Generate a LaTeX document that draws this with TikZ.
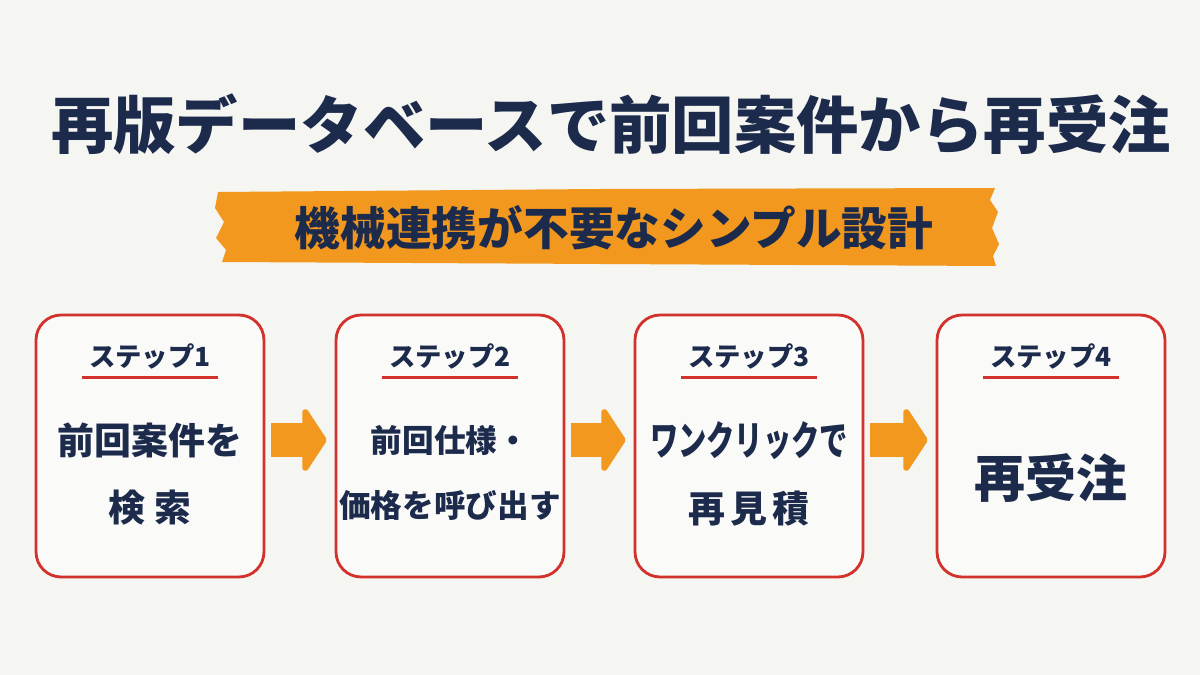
\documentclass[tikz,border=0pt]{standalone}
\usepackage{fontspec}
\usepackage{graphicx}
\newfontfamily\cjk{Noto Sans CJK JP}
\usetikzlibrary{arrows.meta,calc,positioning}
\definecolor{navy}{HTML}{1C2A4B}
\definecolor{boxred}{HTML}{D2312C}
\definecolor{tape}{HTML}{F2981E}
\definecolor{paper}{HTML}{F5F5F2}
\definecolor{card}{HTML}{FAFAF8}
\tikzset{
  stepbox/.style={draw=boxred,line width=1.6pt,rounded corners=0.5cm,
    minimum width=4.56cm,minimum height=5.24cm,fill=card},
  steplabel/.style={text=navy,inner sep=2pt,font=\cjk\bfseries\fontsize{15}{18}\selectfont},
  bodytext/.style={text=navy,align=center,font=\cjk\bfseries\fontsize{21}{38}\selectfont},
  fatarrow/.style={draw=tape,line width=0.7cm,-{Triangle[width=1.5cm,length=0.5cm,round]}}
}

\begin{document}
\begin{tikzpicture}[x=0.02cm,y=-0.02cm]
	\fill[paper] (0,0) rectangle (1200,675);
	\useasboundingbox (0,0) rectangle (1200,675);
	\node[text=navy,font=\cjk\bfseries\fontsize{35.5}{40}\selectfont] (title) at (611,124) {再版データベースで前回案件から再受注};
	% tape
	\fill[tape] (218,192) -- (600,189) -- (995,188) -- (990,200) -- (998,212) -- (992,228)
	  -- (999,244) -- (993,256) -- (996,266) -- (600,264) -- (222,262) -- (226,250)
	  -- (216,238) -- (224,222) -- (215,208) -- cycle;
	\node[text=navy,font=\cjk\bfseries\fontsize{26}{30}\selectfont] (sub) at (614,228) {機械連携が不要なシンプル設計};

	\node[stepbox] (s1) at (150,446) {};
	\node[stepbox] (s2) at (450,446) {};
	\node[stepbox] (s3) at (749,446) {};
	\node[stepbox] (s4) at (1051,446) {};

	\node[steplabel] (l1) at (150,356) {ステップ1};
	\node[steplabel] (l2) at (450,356) {ステップ2};
	\node[steplabel] (l3) at (749,356) {ステップ3};
	\node[steplabel] (l4) at (1051,356) {ステップ4};
	\foreach \i in {1,...,4}
	  \draw[boxred,line width=1.6pt] ($(l\i.south west)+(-3,5)$) -- ($(l\i.south east)+(3,5)$);

	\node[bodytext] (b1) at (150,474) {前回案件を\\検\hspace{0.25em}索};
	\node[bodytext,font=\cjk\bfseries\fontsize{18}{37}\selectfont] (b2) at (450,473) {前回仕様・\\価格を呼び出す};
	\node[bodytext] (b3) at (749,474) {\scalebox{0.7}[1]{\fontsize{23}{38}\selectfont ワンクリックで}\\再\hspace{0.15em}見\hspace{0.15em}積};
	\node[bodytext,font=\cjk\bfseries\fontsize{29}{32}\selectfont] (b4) at (1051,478) {再受注};

	\draw[fatarrow] ($(s1.east)+(6,-6)$) -- ($(s2.west)+(-8,-6)$);
	\draw[fatarrow] ($(s2.east)+(6,-6)$) -- ($(s3.west)+(-8,-6)$);
	\draw[fatarrow] ($(s3.east)+(6,-6)$) -- ($(s4.west)+(-8,-6)$);
\end{tikzpicture}
\end{document}
